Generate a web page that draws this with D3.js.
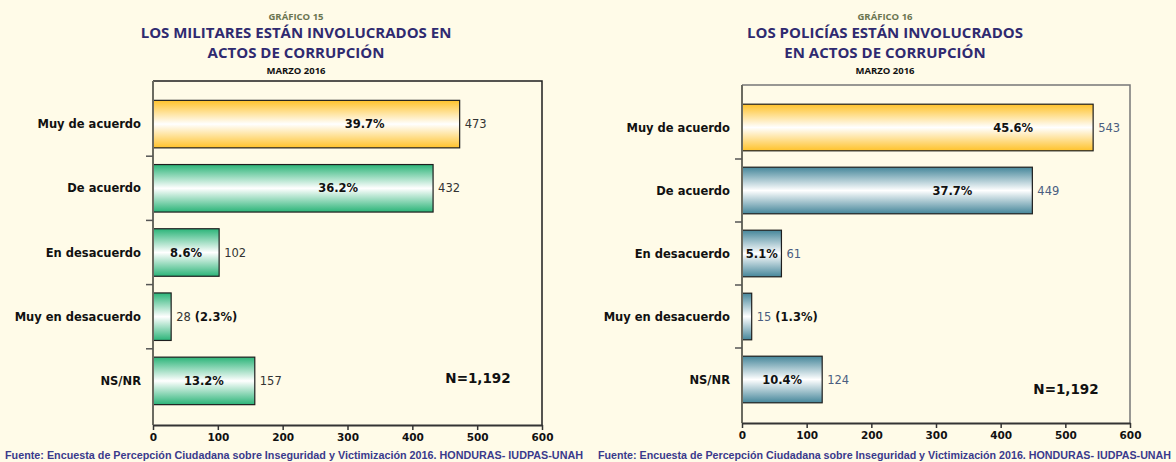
<!DOCTYPE html>
<html>
<head>
<meta charset="utf-8">
<script src="https://cdn.jsdelivr.net/npm/d3@7"></script>
<style>
  body { margin: 0; background: #fffbe8; }
  svg { display: block; }
</style>
</head>
<body>
<div id="chart"></div>
<script>
const width = 1176;
const height = 462;

const categories = ["Muy de acuerdo", "De acuerdo", "En desacuerdo", "Muy en desacuerdo", "NS/NR"];
const militaresCounts = [473, 432, 102, 28, 157];
const militaresPercents = [39.7, 36.2, 8.6, 2.3, 13.2];
const policiasCounts = [543, 449, 61, 15, 124];
const policiasPercents = [45.6, 37.7, 5.1, 1.3, 10.4];
const xTicks = [0, 100, 200, 300, 400, 500, 600];
const sampleLabel = "N=1,192";
const fuente = "Fuente: Encuesta de Percepción Ciudadana sobre Inseguridad y Victimización 2016. HONDURAS- IUDPAS-UNAH";
const fuente2 = "Fuente: Encuesta de Percepción Ciudadana sobre Inseguridad y Victimización 2016. HONDURAS- IUDPAS-UNAH";

const svg = d3.select('#chart')
  .append('svg')
  .attr('width', width)
  .attr('height', height);

svg.append('rect')
  .attr('width', width)
  .attr('height', height)
  .attr('fill', '#fffbe8');

// bar gradients: colour at the edges, white through the middle
const defs = svg.append('defs');
const grads = [
  {id: 'yellow', c: '#ffc22a'},
  {id: 'green', c: '#2bb478'},
  {id: 'blue', c: '#45869a'}
];
grads.forEach(g => {
  const lg = defs.append('linearGradient')
    .attr('id', g.id)
    .attr('x1', 0).attr('y1', 0).attr('x2', 0).attr('y2', 1);
  lg.append('stop').attr('offset', '0%').attr('stop-color', g.c);
  lg.append('stop').attr('offset', '50%').attr('stop-color', '#ffffff');
  lg.append('stop').attr('offset', '100%').attr('stop-color', g.c);
});

function drawChart(cfg) {
  const g = svg.append('g');

  // titles
  g.append('text')
    .attr('x', cfg.titleX).attr('y', 20)
    .attr('text-anchor', 'middle')
    .style('font-family', 'Open Sans, sans-serif')
    .style('font-weight', 700)
    .style('font-size', '9.5px')
    .style('fill', '#6b7550')
    .text(cfg.number);

  cfg.titleLines.forEach((t, i) => {
    g.append('text')
      .attr('x', cfg.titleX).attr('y', 38 + i * 20)
      .attr('text-anchor', 'middle')
      .style('font-family', 'Open Sans, sans-serif')
      .style('font-weight', 700)
      .style('font-size', '15px')
      .style('fill', '#2f2a70')
      .text(t);
  });

  g.append('text')
    .attr('x', cfg.titleX).attr('y', 74)
    .attr('text-anchor', 'middle')
    .style('font-family', 'Open Sans, sans-serif')
    .style('font-weight', 700)
    .style('font-size', '9.5px')
    .style('fill', '#111')
    .text('MARZO 2016');

  const x = d3.scaleLinear()
    .domain([0, 600])
    .range([cfg.left, cfg.right]);

  const y = d3.scaleBand()
    .domain(categories)
    .range([cfg.bandTop, cfg.bandBottom])
    .paddingInner(0.26)
    .paddingOuter(0.13);

  // frame: top and right borders
  g.append('path')
    .attr('d', `M${cfg.left},${cfg.top}H${cfg.right}V${cfg.bottom}`)
    .attr('fill', 'none')
    .attr('stroke', cfg.frameColor)
    .attr('stroke-width', 1.5);

  // bars
  const rows = categories.map((c, i) => ({cat: c, n: cfg.counts[i], pct: cfg.percents[i], i: i}));

  g.selectAll('rect.bar')
    .data(rows)
    .enter()
    .append('rect')
    .attr('class', 'bar')
    .attr('x', x(0))
    .attr('y', d => y(d.cat))
    .attr('width', d => x(d.n) - x(0))
    .attr('height', y.bandwidth())
    .attr('fill', d => d.i === 0 ? 'url(#yellow)' : `url(#${cfg.barColor})`)
    .attr('stroke', '#1e1e1e')
    .attr('stroke-width', 1.2);

  // percent inside bars
  g.selectAll('text.pct')
    .data(rows.filter(d => x(d.n) - x(0) > 25))
    .enter()
    .append('text')
    .attr('class', 'pct')
    .attr('x', d => Math.max((x(0) + x(d.n)) / 2, x(d.n) - cfg.pctOffset))
    .attr('y', d => y(d.cat) + y.bandwidth() / 2 + 4)
    .attr('text-anchor', 'middle')
    .style('font-family', 'DejaVu Sans, Verdana, sans-serif')
    .style('font-weight', 700)
    .style('font-size', '11.5px')
    .style('fill', '#111')
    .text(d => d.pct.toFixed(1) + '%');

  // counts outside bars
  const vals = g.selectAll('text.val')
    .data(rows)
    .enter()
    .append('text')
    .attr('class', 'val')
    .attr('x', d => x(d.n) + 5)
    .attr('y', d => y(d.cat) + y.bandwidth() / 2 + 4)
    .style('font-family', 'DejaVu Sans, Verdana, sans-serif')
    .style('font-size', '11.5px')
    .style('fill', cfg.valueColor);
  vals.append('tspan').text(d => d.n);
  vals.filter(d => x(d.n) - x(0) <= 25)
    .append('tspan')
    .style('font-weight', 700)
    .style('fill', '#111')
    .text(d => ' (' + d.pct.toFixed(1) + '%)');

  // category labels
  g.selectAll('text.cat')
    .data(rows)
    .enter()
    .append('text')
    .attr('class', 'cat')
    .attr('x', cfg.left - 12)
    .attr('y', d => y(d.cat) + y.bandwidth() / 2 + 4)
    .attr('text-anchor', 'end')
    .style('font-family', 'DejaVu Sans, Verdana, sans-serif')
    .style('font-weight', 700)
    .style('font-size', '11.5px')
    .style('fill', '#111')
    .text(d => d.cat);

  // left axis with category separators
  g.append('line')
    .attr('x1', cfg.left).attr('x2', cfg.left)
    .attr('y1', cfg.top).attr('y2', cfg.bottom)
    .attr('stroke', '#6b6b60')
    .attr('stroke-width', 2);

  const seps = categories.slice(1).map(c => y(c) - y.step() * y.paddingInner() / 2);
  g.selectAll('line.sep')
    .data(seps)
    .enter()
    .append('line')
    .attr('x1', cfg.left - 7).attr('x2', cfg.left)
    .attr('y1', d => d).attr('y2', d => d)
    .attr('stroke', '#555')
    .attr('stroke-width', 1.5);

  // bottom axis
  const xAxis = d3.axisBottom(x)
    .tickValues(xTicks)
    .tickSize(5)
    .tickSizeOuter(0)
    .tickPadding(4);

  const ax = g.append('g')
    .attr('transform', `translate(0,${cfg.bottom})`)
    .call(xAxis);
  ax.select('.domain').attr('stroke', '#333').attr('stroke-width', 2);
  ax.selectAll('.tick line').attr('stroke', '#333').attr('stroke-width', 1.5);
  ax.selectAll('.tick text')
    .style('font-family', 'DejaVu Sans, Verdana, sans-serif')
    .style('font-weight', 700)
    .style('font-size', '10.5px')
    .style('fill', '#111');

  g.append('text')
    .attr('x', cfg.nX).attr('y', cfg.nY)
    .attr('text-anchor', 'middle')
    .style('font-family', 'DejaVu Sans, Verdana, sans-serif')
    .style('font-weight', 700)
    .style('font-size', '13.5px')
    .style('fill', '#111')
    .text(sampleLabel);

  g.append('text')
    .attr('x', cfg.footX).attr('y', 459)
    .attr('textLength', cfg.footW)
    .attr('lengthAdjust', 'spacingAndGlyphs')
    .style('font-family', 'Liberation Sans, Arial, sans-serif')
    .style('font-weight', 700)
    .style('font-size', '10px')
    .style('fill', '#3a3a8c')
    .text(cfg.footer);
}

drawChart({
  number: 'GRÁFICO 15',
  titleLines: ['LOS MILITARES ESTÁN INVOLUCRADOS EN', 'ACTOS DE CORRUPCIÓN'],
  titleX: 296,
  counts: militaresCounts,
  percents: militaresPercents,
  left: 153, right: 542, top: 81, bottom: 425,
  bandTop: 92, bandBottom: 413,
  barColor: 'green',
  valueColor: '#333',
  frameColor: '#1e1e1e',
  pctOffset: 95,
  nX: 478, nY: 383,
  footX: 5, footW: 578,
  footer: fuente
});

drawChart({
  number: 'GRÁFICO 16',
  titleLines: ['LOS POLICÍAS ESTÁN INVOLUCRADOS', 'EN ACTOS DE CORRUPCIÓN'],
  titleX: 885,
  counts: policiasCounts,
  percents: policiasPercents,
  left: 742, right: 1130, top: 85, bottom: 423,
  bandTop: 96, bandBottom: 411,
  barColor: 'blue',
  valueColor: '#4a5e80',
  frameColor: '#777',
  pctOffset: 80,
  nX: 1066, nY: 394,
  footX: 598, footW: 573,
  footer: fuente2
});
</script>
</body>
</html>
